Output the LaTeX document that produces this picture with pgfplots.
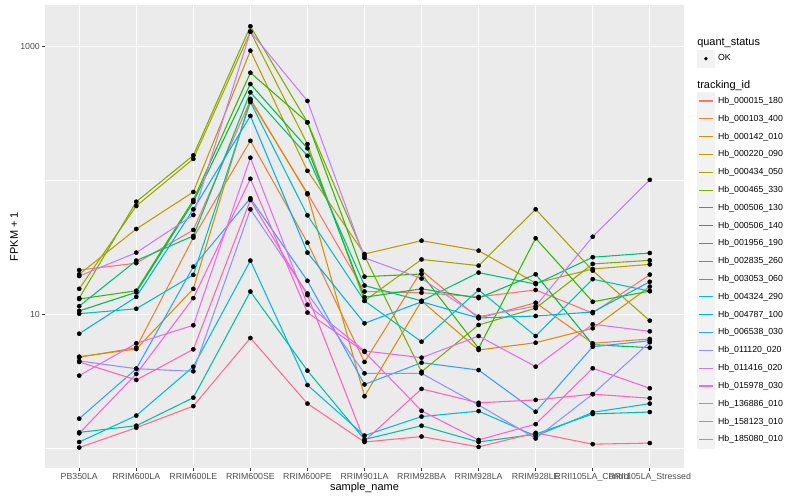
\documentclass[border=0pt]{standalone}
\usepackage{pgfplots}
\pgfplotsset{compat=1.18}
\usepackage{pgfplotstable}
\usepackage{fontspec}
\setmainfont{Liberation Sans}

\definecolor{ggbg}{HTML}{EBEBEB}
\definecolor{keybg}{HTML}{F2F2F2}
\definecolor{grey30}{HTML}{4D4D4D}
\definecolor{grey20}{HTML}{333333}
\definecolor{c01}{HTML}{F8766D}
\definecolor{c02}{HTML}{EA8331}
\definecolor{c03}{HTML}{D89000}
\definecolor{c04}{HTML}{C09B00}
\definecolor{c05}{HTML}{A3A500}
\definecolor{c06}{HTML}{7CAE00}
\definecolor{c07}{HTML}{39B600}
\definecolor{c08}{HTML}{00BB4E}
\definecolor{c09}{HTML}{00BF7D}
\definecolor{c10}{HTML}{00C1A3}
\definecolor{c11}{HTML}{00BFC4}
\definecolor{c12}{HTML}{00BAE0}
\definecolor{c13}{HTML}{00B0F6}
\definecolor{c14}{HTML}{35A2FF}
\definecolor{c15}{HTML}{9590FF}
\definecolor{c16}{HTML}{C77CFF}
\definecolor{c17}{HTML}{E76BF3}
\definecolor{c18}{HTML}{FA62DB}
\definecolor{c19}{HTML}{FF62BC}
\definecolor{c20}{HTML}{FF6C91}

% FPKM + 1, one column per tracking_id, rows = samples 0..10
\pgfplotstableread{
x  s01  s02  s03  s04  s05  s06  s07  s08  s09  s10  s11  s12  s13  s14  s15  s16  s17  s18  s19  s20
0  21.4 4.77 4.82 19.9 15.5 13.2 13.0 10.6 11.5 1.31 10.1 1.11 7.16 1.66 4.48 19.3 3.48 1.29 4.40 1.01
1  24.1 5.63 5.50 43.4 64.5 69.4 15.0 14.6 25.2 1.47 11.0 1.75 13.5 3.92 3.92 28.9 6.07 3.58 3.23 1.42
2  42.7 37.4 15.5 82.1 145  154  71.5 69.1 38.5 2.38 19.7 4.06 60.9 22.7 3.75 55.2 8.28 13.2 5.47 2.06
3  398  198  407  934  1295 1421 639  526  456  14.8 386  25.2 304  73.6 60.9 1295 148  103  71.5 6.65
4  80.2 34.3 78.9 118  187  272  272  174  153  3.79 54.9 2.96 28.9 17.8 14.3 393  11.8 10.3 13.9 2.15
5  14.8 4.40 2.44 28.2 12.6 27.3 19.1 13.4 16.4 1.16 12.6 1.24 8.56 2.99 3.62 26.4 5.32 5.23 1.13 1.11
6  14.5 21.2 12.6 35.5 25.7 3.72 20.0 15.5 12.6 1.47 6.24 1.72 12.4 4.35 3.62 18.5 4.74 1.90 2.77 1.22
7  13.5 9.34 5.41 29.9 23.1 8.32 5.57 13.2 20.5 1.11 15.2 1.89 9.38 3.83 2.10 9.60 6.88 1.15 2.18 1.02
8  15.2 12.2 6.13 17.1 60.9 11.1 37.0 19.9 16.8 1.27 6.88 1.23 9.71 1.87 1.18 11.5 4.06 1.51 2.29 1.30
9  10.2 6.07 7.86 21.8 21.2 23.8 12.4 5.93 26.7 1.80 18.3 1.85 10.4 5.72 2.53 38.0 8.42 3.95 2.53 1.07
10 19.8 6.54 16.1 23.6 8.96 25.3 14.9 5.63 28.7 1.86 14.9 2.15 17.5 6.35 6.18 101  7.46 2.80 2.36 1.09
}\fpkm

\pgfplotsset{
  ln/.style={line width=1.07bp,
    legend image code/.code={
      \fill[keybg] (0bp,-8.64bp) rectangle (17.28bp,8.64bp);
      \draw[line width=1.07bp] (1.73bp,0bp) -- (15.55bp,0bp);}},
  % legend title row: text drawn in the image cell, outside the bounding box
  gtitle/.style 2 args={legend image code/.code={
      \path[draw=none, fill=none] (0bp,-#2) rectangle (0bp,8bp);
      \node[overlay, draw=none, fill=none, anchor=west, inner sep=0pt, text=black,
            font=\fontsize{11}{13}\selectfont] at (0bp,0bp) {#1};}},
}

\begin{document}
\begin{tikzpicture}
\path[use as bounding box] (0,0) rectangle (800bp,500bp);
\begin{axis}[
  at={(45bp,32bp)}, anchor=south west,
  scale only axis, width=639bp, height=463bp,
  xmin=-0.6, xmax=10.6,
  ymode=log, ymin=0.71, ymax=2049,
  xtick={0,1,2,3,4,5,6,7,8,9,10},
  xticklabels={PB350LA,RRIM600LA,RRIM600LE,RRIM600SE,RRIM600PE,RRIM901LA,RRIM928BA,RRIM928LA,RRIM928LE,RRII105LA\_Control,RRII105LA\_Stressed},
  ytick={10,1000}, yticklabels={10,1000},
  minor ytick={1,100},
  grid=both,
  major grid style={white, line width=1.07bp},
  minor grid style={white, line width=0.53bp},
  axis background/.style={fill=ggbg},
  axis line style={draw=none},
  tick pos=left, tick align=outside,
  major tick length=2.75bp, minor tick length=0pt,
  tick style={grey20, line width=1.07bp},
  /pgf/number format/assume math mode=true,
  ticklabel style={font=\fontsize{8.8}{10}\selectfont, text=grey30},
  xticklabel style={anchor=north, inner sep=0pt, yshift=-2.2bp},
  yticklabel style={anchor=east, inner sep=0pt, xshift=-2.2bp},
  xlabel={sample\_name},
  xlabel style={at={(axis description cs:0.5,-0.0432)}, anchor=center, inner sep=0pt, font=\fontsize{11}{13}\selectfont},
  ylabel={FPKM + 1},
  ylabel style={at={(axis description cs:-0.0485,0.5)}, anchor=center, inner sep=0pt, font=\fontsize{11}{13}\selectfont},
  legend cell align=left,
  legend style={at={(axis description cs:1.0199,0.9363)}, anchor=north west,
    draw=none, fill=none, inner sep=0pt, outer sep=0pt,
    row sep=-0.54bp, column sep=0pt,
    font=\fontsize{8.8}{10}\selectfont,
    nodes={inner xsep=3bp, inner ysep=0pt}},
]
\addlegendimage{gtitle={quant\_status}{7.86bp}}
\addlegendentry{}
\addlegendimage{legend image code/.code={
  \fill[keybg] (0bp,-8.64bp) rectangle (17.28bp,8.64bp);
  \fill[black] (8.64bp,0bp) circle (1.5bp);}}
\addlegendentry{OK}
\addlegendimage{gtitle={tracking\_id}{7.56bp},
  legend image code/.append code={\path[draw=none] (0bp,0bp) rectangle (0bp,17.86bp);}}
\addlegendentry{}

\addplot[ln, c01] table[x=x, y=s01] {\fpkm}; \addlegendentry{Hb\_000015\_180}
\addplot[ln, c02] table[x=x, y=s02] {\fpkm}; \addlegendentry{Hb\_000103\_400}
\addplot[ln, c03] table[x=x, y=s03] {\fpkm}; \addlegendentry{Hb\_000142\_010}
\addplot[ln, c04] table[x=x, y=s04] {\fpkm}; \addlegendentry{Hb\_000220\_090}
\addplot[ln, c05] table[x=x, y=s05] {\fpkm}; \addlegendentry{Hb\_000434\_050}
\addplot[ln, c06] table[x=x, y=s06] {\fpkm}; \addlegendentry{Hb\_000465\_330}
\addplot[ln, c07] table[x=x, y=s07] {\fpkm}; \addlegendentry{Hb\_000506\_130}
\addplot[ln, c08] table[x=x, y=s08] {\fpkm}; \addlegendentry{Hb\_000506\_140}
\addplot[ln, c09] table[x=x, y=s09] {\fpkm}; \addlegendentry{Hb\_001956\_190}
\addplot[ln, c10] table[x=x, y=s10] {\fpkm}; \addlegendentry{Hb\_002835\_260}
\addplot[ln, c11] table[x=x, y=s11] {\fpkm}; \addlegendentry{Hb\_003053\_060}
\addplot[ln, c12] table[x=x, y=s12] {\fpkm}; \addlegendentry{Hb\_004324\_290}
\addplot[ln, c13] table[x=x, y=s13] {\fpkm}; \addlegendentry{Hb\_004787\_100}
\addplot[ln, c14] table[x=x, y=s14] {\fpkm}; \addlegendentry{Hb\_006538\_030}
\addplot[ln, c15] table[x=x, y=s15] {\fpkm}; \addlegendentry{Hb\_011120\_020}
\addplot[ln, c16] table[x=x, y=s16] {\fpkm}; \addlegendentry{Hb\_011416\_020}
\addplot[ln, c17] table[x=x, y=s17] {\fpkm}; \addlegendentry{Hb\_015978\_030}
\addplot[ln, c18] table[x=x, y=s18] {\fpkm}; \addlegendentry{Hb\_136886\_010}
\addplot[ln, c19] table[x=x, y=s19] {\fpkm}; \addlegendentry{Hb\_158123\_010}
\addplot[ln, c20] table[x=x, y=s20] {\fpkm}; \addlegendentry{Hb\_185080\_010}

% points on top of all lines
\pgfplotsinvokeforeach{s01,s02,s03,s04,s05,s06,s07,s08,s09,s10,s11,s12,s13,s14,s15,s16,s17,s18,s19,s20}{
  \addplot[forget plot, only marks, mark=*, black, mark size=2.1bp] table[x=x, y=#1] {\fpkm};
}
\end{axis}
\end{tikzpicture}
\end{document}
